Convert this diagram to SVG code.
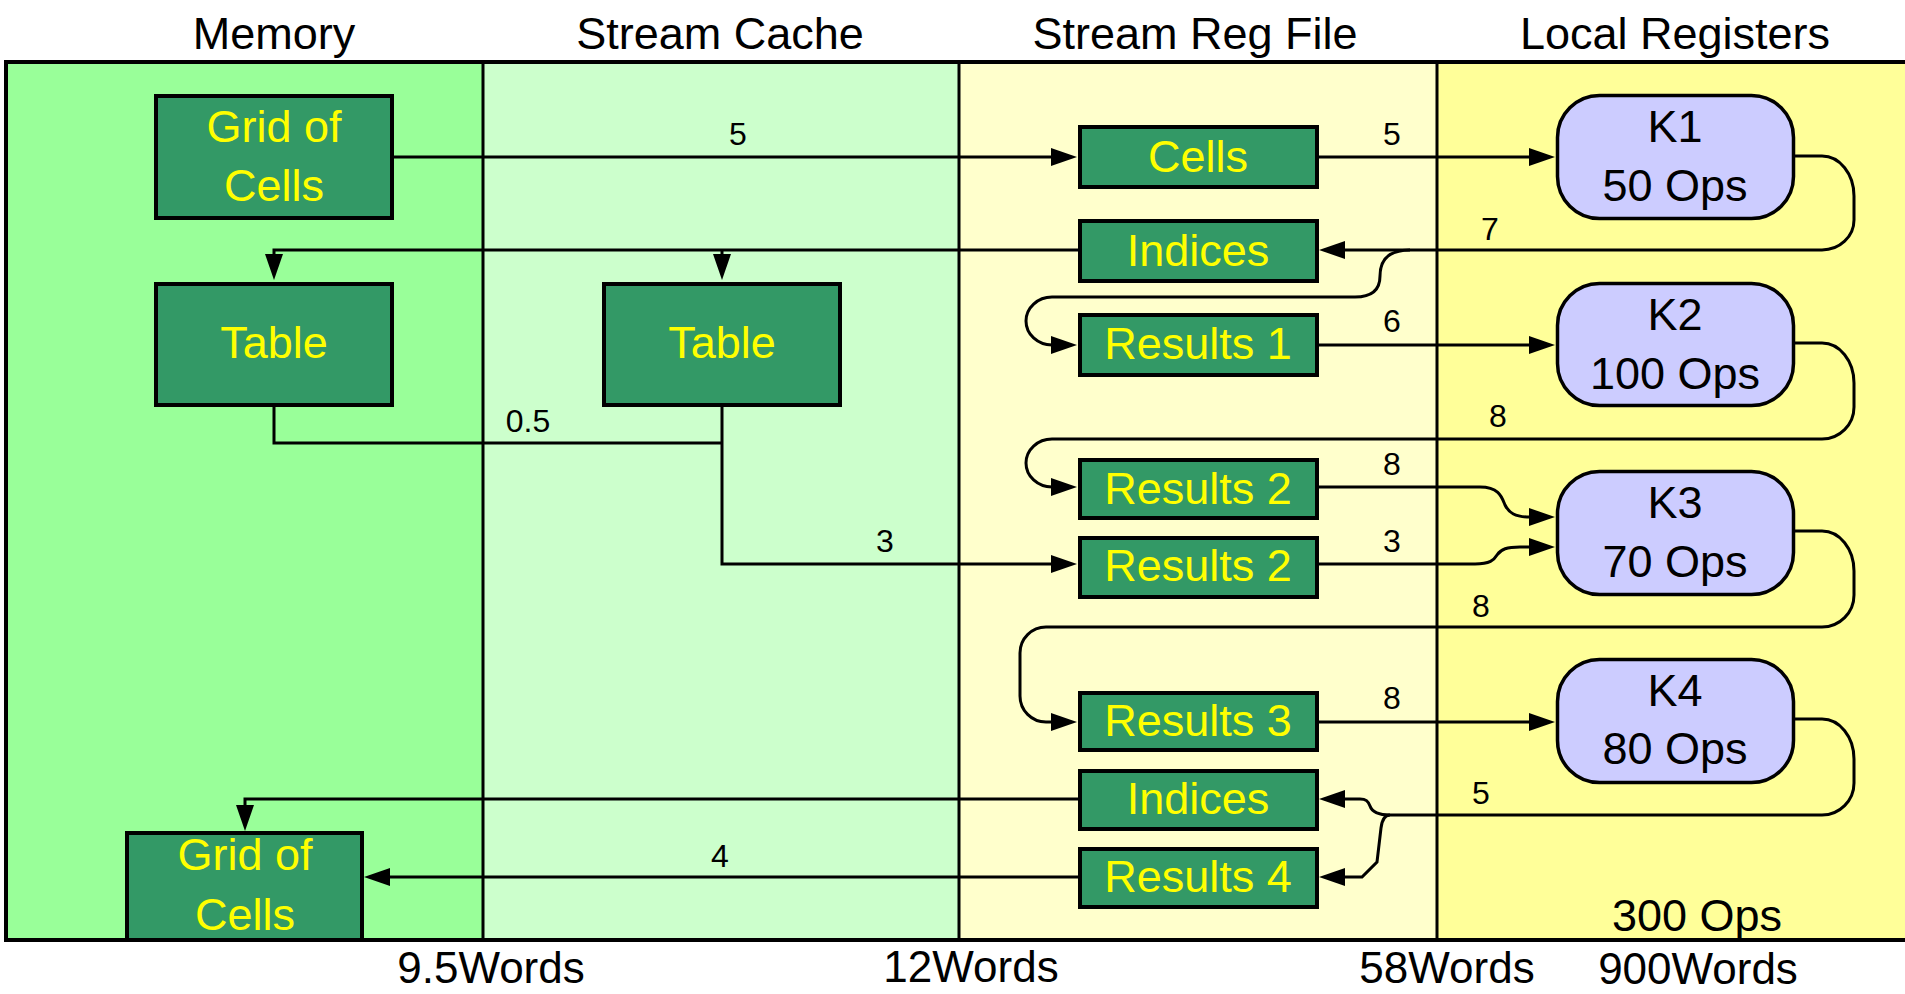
<svg xmlns="http://www.w3.org/2000/svg" width="1905" height="994" viewBox="0 0 1905 994">
  <style>
    .hdr { font-family: "Liberation Sans", Arial, sans-serif; font-size: 45px; fill: #000; text-anchor: middle; }
    .foot { font-family: "Liberation Sans", Arial, sans-serif; font-size: 44px; fill: #000; text-anchor: middle; }
    .box { fill: #339966; stroke: #000; stroke-width: 4; }
    .btxt { font-family: "Liberation Sans", Arial, sans-serif; font-size: 45px; fill: #FFFF00; text-anchor: middle; }
    .kern { fill: #CCCCFF; stroke: #000; stroke-width: 3.5; }
    .ktxt { font-family: "Liberation Sans", Arial, sans-serif; font-size: 45px; fill: #000; text-anchor: middle; }
    .wire { fill: none; stroke: #000; stroke-width: 3; }
    .arr { marker-end: url(#ah); }
    .lbl { font-family: "Liberation Sans", Arial, sans-serif; font-size: 32px; fill: #000; text-anchor: middle; }
    .div { stroke: #000; stroke-width: 3; }
    .edge { stroke: #000; stroke-width: 4; }
  </style>
  <defs>
    <marker id="ah" markerUnits="userSpaceOnUse" markerWidth="26" markerHeight="18" refX="6" refY="9" orient="auto" overflow="visible">
      <path d="M0,0 L26,9 L0,18 z" fill="#000"/>
    </marker>
  </defs>

  <rect x="0" y="0" width="1905" height="994" fill="#fff"/>

  <!-- storage level bands -->
  <g id="bands">
    <rect x="6" y="62" width="477" height="878" fill="#99FF99"/>
    <rect x="483" y="62" width="476" height="878" fill="#CCFFCC"/>
    <rect x="959" y="62" width="478" height="878" fill="#FFFFCC"/>
    <rect x="1437" y="62" width="468" height="878" fill="#FFFF99"/>
    <line class="edge" x1="4" y1="62" x2="1905" y2="62"/>
    <line class="edge" x1="4" y1="940" x2="1905" y2="940"/>
    <line class="edge" x1="6" y1="62" x2="6" y2="940"/>
    <line class="div" x1="483" y1="62" x2="483" y2="940"/>
    <line class="div" x1="959" y1="62" x2="959" y2="940"/>
    <line class="div" x1="1437" y1="62" x2="1437" y2="940"/>
  </g>

  <!-- column titles and totals -->
  <g id="titles">
    <text class="hdr" x="274" y="49">Memory</text>
    <text class="hdr" x="720" y="49">Stream Cache</text>
    <text class="hdr" x="1195" y="49">Stream Reg File</text>
    <text class="hdr" x="1675" y="49">Local Registers</text>
    <text class="foot" x="491" y="983">9.5Words</text>
    <text class="foot" x="971" y="982">12Words</text>
    <text class="foot" x="1447" y="983">58Words</text>
    <text class="foot" x="1698" y="984">900Words</text>
    <text class="hdr" x="1697" y="931">300 Ops</text>
  </g>

  <!-- data streams -->
  <g id="connectors">
    <path class="wire arr" d="M394,157 H1057"/>
    <path class="wire arr" d="M1319,157 H1535"/>
    <path class="wire arr" d="M1795,156 H1822 A32,40 0 0 1 1854,196 V220 A32,30 0 0 1 1822,250 H1339"/>
    <path class="wire arr" d="M1410,250 C1388,250 1380,260 1380,276 C1380,290 1372,297 1355,297 H1052 A26,24 0 0 0 1026,321 A26,24 0 0 0 1052,345 H1057"/>
    <path class="wire arr" d="M1078,250 H274 V260"/>
    <path class="wire arr" d="M722,250 V260"/>
    <path class="wire" d="M274,407 V443 H722"/>
    <path class="wire arr" d="M722,407 V564 H1057"/>
    <path class="wire arr" d="M1319,345 H1535"/>
    <path class="wire arr" d="M1795,343 H1822 A32,40 0 0 1 1854,383 V407 A32,32 0 0 1 1822,439 H1052 A26,24 0 0 0 1026,463 A26,24 0 0 0 1052,487 H1057"/>
    <path class="wire arr" d="M1319,487 H1480 C1500,487 1502,498 1505,505 C1509,513 1515,517 1530,517 H1535"/>
    <path class="wire arr" d="M1319,564 H1475 C1490,564 1494,560 1497,555 C1501,549 1507,547 1520,547 H1535"/>
    <path class="wire arr" d="M1795,531 H1822 A32,40 0 0 1 1854,571 V595 A32,32 0 0 1 1822,627 H1046 A26,26 0 0 0 1020,653 V696 A26,26 0 0 0 1046,722 H1057"/>
    <path class="wire arr" d="M1319,722 H1535"/>
    <path class="wire arr" d="M1795,719 H1822 A32,40 0 0 1 1854,759 V783 A32,32 0 0 1 1822,815 H1390 C1378,815 1372,812 1370,806 C1368,801 1366,799 1360,799 H1339"/>
    <path class="wire arr" d="M1390,815 C1385,815 1382,820 1381,828 L1377,862 L1362,877 H1339"/>
    <path class="wire arr" d="M1078,799 H245 V811"/>
    <path class="wire arr" d="M1078,877 H384"/>

    <text class="lbl" x="738" y="145">5</text>
    <text class="lbl" x="1392" y="145">5</text>
    <text class="lbl" x="1490" y="240">7</text>
    <text class="lbl" x="1392" y="332">6</text>
    <text class="lbl" x="528" y="432">0.5</text>
    <text class="lbl" x="1498" y="427">8</text>
    <text class="lbl" x="1392" y="475">8</text>
    <text class="lbl" x="885" y="552">3</text>
    <text class="lbl" x="1392" y="552">3</text>
    <text class="lbl" x="1481" y="617">8</text>
    <text class="lbl" x="1392" y="709">8</text>
    <text class="lbl" x="1481" y="804">5</text>
    <text class="lbl" x="720" y="867">4</text>
  </g>

  <!-- memory -->
  <g id="grid-in">
    <rect class="box" x="156" y="96" width="236" height="122"/>
    <text class="btxt" x="274" y="142">Grid of</text>
    <text class="btxt" x="274" y="201">Cells</text>
  </g>
  <g id="table-mem">
    <rect class="box" x="156" y="284" width="236" height="121"/>
    <text class="btxt" x="274" y="358">Table</text>
  </g>
  <g id="grid-out">
    <rect class="box" x="127" y="833" width="235" height="107"/>
    <text class="btxt" x="245" y="870">Grid of</text>
    <text class="btxt" x="245" y="930">Cells</text>
  </g>

  <!-- stream cache -->
  <g id="table-cache">
    <rect class="box" x="604" y="284" width="236" height="121"/>
    <text class="btxt" x="722" y="358">Table</text>
  </g>

  <!-- stream register file -->
  <g id="srf-cells">
    <rect class="box" x="1080" y="127" width="237" height="60"/>
    <text class="btxt" x="1198" y="172">Cells</text>
  </g>
  <g id="srf-indices-1">
    <rect class="box" x="1080" y="221" width="237" height="60"/>
    <text class="btxt" x="1198" y="266">Indices</text>
  </g>
  <g id="srf-results-1">
    <rect class="box" x="1080" y="315" width="237" height="60"/>
    <text class="btxt" x="1198" y="359">Results 1</text>
  </g>
  <g id="srf-results-2a">
    <rect class="box" x="1080" y="460" width="237" height="58"/>
    <text class="btxt" x="1198" y="504">Results 2</text>
  </g>
  <g id="srf-results-2b">
    <rect class="box" x="1080" y="538" width="237" height="59"/>
    <text class="btxt" x="1198" y="581">Results 2</text>
  </g>
  <g id="srf-results-3">
    <rect class="box" x="1080" y="693" width="237" height="57"/>
    <text class="btxt" x="1198" y="736">Results 3</text>
  </g>
  <g id="srf-indices-2">
    <rect class="box" x="1080" y="771" width="237" height="58"/>
    <text class="btxt" x="1198" y="814">Indices</text>
  </g>
  <g id="srf-results-4">
    <rect class="box" x="1080" y="849" width="237" height="58"/>
    <text class="btxt" x="1198" y="892">Results 4</text>
  </g>

  <!-- kernels -->
  <g id="k1">
    <rect class="kern" x="1557.5" y="95.5" width="236" height="123" rx="42" ry="42"/>
    <text class="ktxt" x="1675" y="142">K1</text>
    <text class="ktxt" x="1675" y="201">50 Ops</text>
  </g>
  <g id="k2">
    <rect class="kern" x="1557.5" y="283.5" width="236" height="122" rx="42" ry="42"/>
    <text class="ktxt" x="1675" y="330">K2</text>
    <text class="ktxt" x="1675" y="389">100 Ops</text>
  </g>
  <g id="k3">
    <rect class="kern" x="1557.5" y="471.5" width="236" height="123" rx="42" ry="42"/>
    <text class="ktxt" x="1675" y="518">K3</text>
    <text class="ktxt" x="1675" y="577">70 Ops</text>
  </g>
  <g id="k4">
    <rect class="kern" x="1557.5" y="659.5" width="236" height="123" rx="42" ry="42"/>
    <text class="ktxt" x="1675" y="706">K4</text>
    <text class="ktxt" x="1675" y="764">80 Ops</text>
  </g>
</svg>
